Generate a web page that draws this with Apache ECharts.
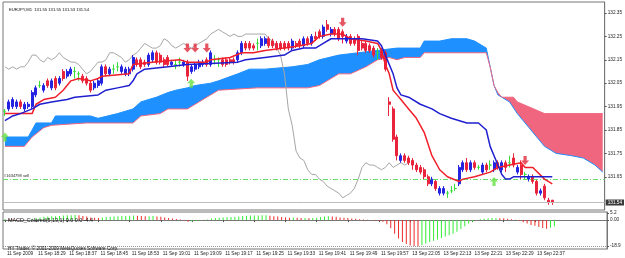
<!DOCTYPE html>
<html><head><meta charset="utf-8">
<script src="https://cdn.jsdelivr.net/npm/echarts@6/dist/echarts.min.js"></script>
<style>html,body{margin:0;padding:0;background:#fff}#c{width:625px;height:258px}</style>
</head><body><div id="c"></div>
<script>
// ---------- data ----------
const tickLabels = ['11 Sep 2009','11 Sep 18:29','11 Sep 18:37','11 Sep 18:45','11 Sep 18:53','11 Sep 19:01','11 Sep 19:09','11 Sep 19:17','11 Sep 19:25','11 Sep 19:33','11 Sep 19:41','11 Sep 19:49','11 Sep 19:57','13 Sep 22:05','13 Sep 22:13','13 Sep 22:21','13 Sep 22:29','13 Sep 22:37'];
const priceTicks = [131.65,131.75,131.85,131.95,132.05,132.15,132.25,132.35];
const macdTicks = [5.2, 0, -18.9];
const bidPrice = 131.54;
const sellPrice = 131.643;

// candles: [open, close, low, high]
const candles = [
[131.93,131.93,131.91,131.94],[131.94,131.97,131.93,131.98],[131.95,131.98,131.94,131.99],[131.95,131.97,131.94,131.98],
[131.97,131.95,131.94,131.98],[131.94,131.96,131.93,131.97],[131.95,131.96,131.94,131.97],[131.95,132.01,131.94,132.02],
[132.00,132.03,131.99,132.04],[132.04,132.04,132.03,132.06],[132.02,132.04,132.01,132.05],[132.06,132.04,132.03,132.07],
[132.03,132.06,132.02,132.07],[132.07,132.03,132.02,132.08],[132.05,132.07,132.04,132.08],[132.10,132.07,132.06,132.11],
[132.08,132.10,132.07,132.11],[132.09,132.11,132.08,132.12],[132.10,132.10,132.07,132.12],[132.09,132.09,132.06,132.10],
[132.08,132.06,132.05,132.09],[132.07,132.05,132.04,132.08],[132.05,132.02,132.01,132.06],[132.03,132.05,132.02,132.06],
[132.04,132.06,132.03,132.07],[132.05,132.12,132.04,132.13],[132.12,132.09,132.08,132.13],[132.09,132.11,132.08,132.12],
[132.11,132.11,132.09,132.13],[132.12,132.12,132.10,132.14],[132.10,132.12,132.09,132.13],[132.09,132.11,132.08,132.12],
[132.09,132.11,132.08,132.12],[132.11,132.16,132.10,132.17],[132.15,132.13,132.12,132.16],[132.15,132.12,132.11,132.16],
[132.14,132.13,132.12,132.15],[132.13,132.17,132.12,132.18],[132.15,132.18,132.14,132.19],[132.18,132.14,132.13,132.19],
[132.17,132.14,132.13,132.18],[132.15,132.13,132.12,132.16],[132.16,132.13,132.12,132.17],[132.13,132.14,132.12,132.15],
[132.13,132.13,132.11,132.15],[132.14,132.14,132.12,132.16],[132.13,132.14,132.12,132.15],[132.14,132.08,132.06,132.15],
[132.10,132.12,132.09,132.13],[132.11,132.13,132.10,132.14],[132.12,132.14,132.11,132.15],[132.13,132.14,132.12,132.15],
[132.15,132.13,132.12,132.16],[132.13,132.18,132.12,132.19],[132.15,132.15,132.13,132.17],[132.15,132.15,132.12,132.16],
[132.15,132.13,132.12,132.16],[132.15,132.13,132.12,132.16],[132.15,132.14,132.13,132.16],[132.15,132.14,132.13,132.16],
[132.15,132.18,132.14,132.19],[132.18,132.22,132.17,132.23],[132.22,132.20,132.19,132.23],[132.22,132.20,132.19,132.23],
[132.21,132.20,132.19,132.22],[132.22,132.22,132.19,132.24],[132.21,132.24,132.20,132.25],[132.22,132.24,132.21,132.25],
[132.24,132.21,132.20,132.25],[132.23,132.21,132.20,132.24],[132.22,132.20,132.19,132.23],[132.22,132.20,132.19,132.23],
[132.22,132.20,132.19,132.23],[132.22,132.20,132.19,132.23],[132.20,132.23,132.19,132.24],[132.22,132.21,132.20,132.23],
[132.23,132.21,132.20,132.24],[132.21,132.24,132.20,132.25],[132.24,132.22,132.21,132.25],[132.22,132.25,132.21,132.26],
[132.25,132.24,132.23,132.27],[132.27,132.25,132.24,132.28],[132.25,132.29,132.24,132.30],[132.30,132.28,132.27,132.32],
[132.26,132.28,132.25,132.29],[132.28,132.26,132.25,132.29],[132.28,132.24,132.23,132.29],[132.27,132.25,132.22,132.28],
[132.23,132.25,132.22,132.26],[132.25,132.22,132.21,132.26],[132.24,132.22,132.21,132.25],[132.25,132.19,132.17,132.26],
[132.22,132.20,132.19,132.23],[132.22,132.19,132.18,132.23],[132.21,132.19,132.18,132.22],[132.20,132.17,132.16,132.21],
[132.18,132.18,132.15,132.20],[132.19,132.16,132.15,132.20],[132.18,132.11,132.10,132.19],[131.97,131.96,131.91,131.99],
[131.94,131.81,131.80,131.95],[131.82,131.74,131.72,131.83],[131.72,131.74,131.71,131.75],[131.74,131.72,131.71,131.75],
[131.73,131.71,131.70,131.74],[131.72,131.70,131.68,131.73],[131.70,131.68,131.67,131.71],[131.69,131.67,131.66,131.70],
[131.68,131.65,131.64,131.69],[131.65,131.62,131.61,131.66],[131.62,131.64,131.61,131.65],[131.63,131.60,131.59,131.64],
[131.58,131.60,131.57,131.61],[131.58,131.60,131.57,131.61],[131.58,131.58,131.56,131.59],[131.59,131.59,131.58,131.61],
[131.60,131.60,131.59,131.62],[131.62,131.69,131.61,131.70],[131.68,131.71,131.67,131.72],[131.71,131.68,131.67,131.73],
[131.68,131.71,131.67,131.72],[131.71,131.69,131.68,131.72],[131.69,131.69,131.68,131.70],[131.67,131.70,131.66,131.71],
[131.70,131.68,131.67,131.71],[131.70,131.70,131.68,131.72],[131.68,131.71,131.67,131.72],[131.71,131.69,131.68,131.72],
[131.68,131.71,131.67,131.72],[131.71,131.69,131.67,131.72],[131.71,131.71,131.69,131.74],[131.73,131.70,131.69,131.75],
[131.67,131.69,131.66,131.70],[131.70,131.66,131.64,131.72],[131.66,131.66,131.64,131.67],[131.64,131.65,131.63,131.66],
[131.65,131.63,131.62,131.66],[131.63,131.58,131.57,131.64],[131.58,131.59,131.57,131.60],[131.61,131.56,131.55,131.62],
[131.55,131.54,131.53,131.56],[131.55,131.54,131.53,131.55]
];

// Ichimoku lines: [barIndex, price] vertices
const tenkan = [[0,131.92],[7,131.92],[8,131.96],[10,131.98],[13,131.99],[15,132.02],[17,132.06],[19,132.07],[22,132.06],[24,132.07],[25,132.08],[32,132.09],[33,132.13],[38,132.14],[45,132.15],[47,132.14],[50,132.14],[52,132.14],[53,132.15],[58,132.16],[61,132.18],[64,132.18],[67,132.19],[72,132.20],[76,132.21],[79,132.22],[81,132.25],[84,132.26],[87,132.26],[89,132.24],[93,132.23],[96,132.22],[97,132.19],[98,132.13],[99,132.09],[100,132.02],[101,132.00],[102,131.98],[104,131.94],[106,131.90],[108,131.84],[110,131.74],[112,131.68],[114,131.65],[117,131.63],[118,131.64],[121,131.65],[125,131.67],[127,131.69],[130,131.70],[133,131.71],[134,131.69],[136,131.69],[139,131.64],[141,131.62]];
const kijun = [[0,131.89],[2,131.91],[4,131.92],[7,131.94],[9,131.96],[12,131.97],[16,131.98],[18,131.99],[24,132.00],[26,132.02],[29,132.03],[32,132.04],[33,132.06],[34,132.09],[36,132.11],[42,132.12],[47,132.13],[60,132.14],[62,132.15],[67,132.16],[72,132.17],[74,132.19],[77,132.20],[80,132.20],[82,132.22],[84,132.24],[92,132.24],[96,132.23],[97,132.21],[98,132.17],[100,132.09],[101,132.03],[102,132.00],[104,131.99],[107,131.96],[110,131.94],[112,131.92],[115,131.90],[119,131.88],[122,131.88],[124,131.85],[125,131.78],[126,131.74],[127,131.70],[128,131.66],[129,131.64],[130,131.64],[131,131.65],[141,131.65]];
const chikou = [132.12,132.11,132.12,132.11,132.12,132.12,132.14,132.17,132.17,132.15,132.14,132.16,132.15,132.16,132.18,132.16,132.15,132.14,132.14,132.13,132.11,132.09,132.10,132.12,132.14,132.14,132.15,132.18,132.18,132.17,132.16,132.14,132.15,132.17,132.18,132.20,132.22,132.21,132.20,132.20,132.21,132.24,132.23,132.21,132.20,132.21,132.22,132.21,132.20,132.21,132.22,132.23,132.24,132.26,132.27,132.28,132.27,132.26,132.25,132.26,132.25,132.25,132.26,132.26,132.26,132.26,132.26,132.26,132.24,132.23,132.20,132.17,132.09,131.94,131.87,131.76,131.73,131.72,131.68,131.66,131.66,131.64,131.63,131.61,131.60,131.59,131.58,131.56,131.57,131.58,131.60,131.64,131.69,131.71,131.70,131.70,131.69,131.68,131.69,131.71,131.69,131.70,131.71,131.70,131.71];
const senkouA = [[0,131.82],[6,131.82],[7,131.85],[8,131.88],[12,131.88],[13,131.91],[15,131.91],[22,131.91],[24,131.90],[29,131.92],[33,131.94],[35,131.97],[39,131.99],[42,132.01],[44,132.02],[47,132.03],[49,132.04],[53,132.05],[55,132.06],[60,132.09],[63,132.11],[67,132.11],[74,132.12],[78,132.13],[81,132.15],[86,132.17],[91,132.18],[96,132.19],[101,132.20],[107,132.20],[108,132.23],[112,132.23],[115,132.24],[119,132.24],[121,132.23],[124,132.20],[125,132.12],[126,132.04],[127,132.00],[130,131.97],[132,131.92],[135,131.86],[137,131.82],[139,131.78],[142,131.75],[146,131.74],[149,131.73],[152,131.70],[154,131.67]];
const senkouB = [[0,131.78],[5,131.78],[7,131.82],[10,131.86],[12,131.87],[21,131.88],[33,131.88],[35,131.91],[40,131.92],[42,131.94],[47,131.94],[50,131.97],[53,132.00],[55,132.02],[65,132.03],[78,132.03],[81,132.04],[86,132.09],[89,132.09],[93,132.12],[96,132.15],[99,132.16],[101,132.15],[103,132.16],[107,132.16],[108,132.18],[124,132.18],[125,132.12],[126,132.04],[127,132.01],[128,131.99],[131,131.99],[132,131.97],[139,131.92],[141,131.92],[154,131.92]];
const cloudSwitch = 125; // bar where the cloud changes colour

const sellArrows = [[47,132.20],[49,132.20],[52,132.20],[87,132.31],[134,131.72]];
const buyArrows = [[0,131.82],[48,132.05],[126,131.63]];

const macd = [0.9,0.7,0.5,0.4,0.3,0.2,0.1,0.8,1.5,2.0,2.4,2.6,2.8,2.9,3.1,3.3,3.5,3.6,3.7,3.5,3.1,2.6,2.0,1.7,1.5,2.0,2.3,2.5,2.7,2.9,3.0,3.1,3.2,3.4,3.2,3.0,2.8,2.9,3.0,2.7,2.4,2.0,1.6,1.2,0.8,0.4,-0.3,-1.2,-1.0,-0.6,-0.2,0.3,0.5,1.2,1.5,1.8,2.0,2.1,2.2,2.3,2.6,3.0,3.2,3.3,3.3,3.4,3.5,3.5,3.2,2.9,2.6,2.3,2.0,1.8,1.9,1.7,1.5,1.6,1.4,1.5,1.8,2.2,2.6,2.9,2.7,2.4,2.0,1.7,1.5,1.2,1.0,0.6,0.4,0.2,-0.1,-0.4,-0.5,-1.2,-3.0,-6.0,-10.0,-13.5,-16.0,-17.5,-18.5,-18.9,-19.0,-18.2,-17.0,-16.0,-15.0,-14.2,-13.0,-12.0,-11.0,-10.0,-8.5,-6.5,-4.5,-2.5,-1.0,0.0,0.6,1.0,1.3,1.5,1.6,1.4,1.3,1.0,0.6,0.2,-0.5,-1.5,-2.5,-3.5,-4.2,-5.0,-5.8,-6.3,-5.5,-4.4];

// ---------- categories (one per M1 bar, plus the forward cloud area) ----------
const categories = [];
for (let i = 0; i < 155; i++) {
  let d, m;
  if (i <= 98) { d = '11 Sep'; m = 18*60 + 21 + i; } else { d = '13 Sep'; m = 22*60 + (i - 99); }
  categories.push(d + ' ' + String(Math.floor(m/60)).padStart(2,'0') + ':' + String(m%60).padStart(2,'0'));
}

// ---------- styles ----------
const FONT = 'Liberation Sans, Arial, sans-serif';
const RED = '#e8233b', BLUE = '#2323e0', GREEN = '#38dd38';
const downArrow = 'path://M3,0 L7,0 L7,5 L10,5 L5,10 L0,5 L3,5 Z';
const upArrow = 'path://M5,0 L10,5 L7,5 L7,10 L3,10 L3,5 L0,5 Z';

const candleData = candles.map(c => {
  if (c[0] === c[1]) return {value: c, itemStyle: {color: GREEN, color0: GREEN, borderColor: GREEN, borderColor0: GREEN}};
  return c;
});
const macdData = macd.map((v, i) => ({value: v, itemStyle: {color: (i === 0 || v >= macd[i-1]) ? '#33ee33' : '#ee2b2b'}}));

const tickInterval = (idx) => idx % 8 === 0 && idx / 8 < tickLabels.length;

const chart = echarts.init(document.getElementById('c'), null, {renderer: 'canvas'});
chart.setOption({
  animation: false,
  backgroundColor: '#ffffff',
  title: [
    {text: 'EURJPY,M1  131.55 131.55 131.53 131.54', left: 4, top: 3, textStyle: {fontSize: 4.2, fontWeight: 'normal', color: '#111', fontFamily: FONT}},
    {text: 'MACD_Colored(5,13,1) 0.0 0.0 -4.4', left: 3, top: 213, textStyle: {fontSize: 5.4, fontWeight: 'normal', color: '#111', fontFamily: FONT}},
    {text: 'HY Trader, © 2001-2009 MetaQuotes Software Corp.', left: 3, top: 241, textStyle: {fontSize: 4.7, fontWeight: 'normal', color: '#111', fontFamily: FONT}}
  ],
  grid: [
    {left: 3, right: 18, top: 2, height: 208, show: true, borderColor: '#777', borderWidth: 1, backgroundColor: '#fff'},
    {left: 3, right: 18, top: 212, height: 37, show: true, borderColor: '#777', borderWidth: 1, backgroundColor: '#fff'}
  ],
  xAxis: [
    {type: 'category', gridIndex: 0, data: categories, boundaryGap: true,
     axisLine: {show: false}, axisTick: {show: false}, axisLabel: {show: false}, splitLine: {show: false}},
    {type: 'category', gridIndex: 1, data: categories, boundaryGap: true,
     axisLine: {show: true, lineStyle: {color: '#777'}},
     axisTick: {show: true, alignWithLabel: true, interval: tickInterval, length: 2, lineStyle: {color: '#555'}},
     axisLabel: {show: true, interval: tickInterval, align: 'left', margin: 2, padding: [0,0,0,2],
       formatter: (v, idx) => tickLabels[idx / 8] || '', fontSize: 4.7, color: '#222', fontFamily: FONT},
     splitLine: {show: false}}
  ],
  yAxis: [
    {type: 'value', gridIndex: 0, position: 'right', min: 131.508, max: 132.397, scale: true,
     splitLine: {show: false},
     axisLine: {show: true, lineStyle: {color: '#777'}},
     axisTick: {show: true, length: 2, customValues: priceTicks, lineStyle: {color: '#555'}},
     axisLabel: {customValues: priceTicks, formatter: v => v.toFixed(2), fontSize: 4.7, color: '#222', margin: 3, fontFamily: FONT}},
    {type: 'value', gridIndex: 1, position: 'right', min: -21.09, max: 5.93,
     splitLine: {show: false},
     axisLine: {show: true, lineStyle: {color: '#777'}},
     axisTick: {show: true, length: 2, customValues: macdTicks, lineStyle: {color: '#555'}},
     axisLabel: {customValues: macdTicks, formatter: v => (v === 0 ? '0.00' : String(v)), fontSize: 4.7, color: '#222', margin: 3, fontFamily: FONT}}
  ],
  series: [
    {type: 'custom', xAxisIndex: 0, yAxisIndex: 0, z: 1, silent: true, clip: true,
     data: [[0, senkouA[0][1]]],
     renderItem: function (params, api) {
       const poly = (lo, hi) => {
         const a = senkouA.filter(p => p[0] >= lo && p[0] <= hi).map(p => api.coord(p));
         const b = senkouB.filter(p => p[0] >= lo && p[0] <= hi).map(p => api.coord(p)).reverse();
         return a.concat(b);
       };
       return {type: 'group', children: [
         {type: 'polygon', shape: {points: poly(0, cloudSwitch)}, style: {fill: '#1e90ff'}},
         {type: 'polygon', shape: {points: poly(cloudSwitch, 154)}, style: {fill: '#f0667f'}}
       ]};
     }},
    {type: 'line', name: 'SenkouA', data: senkouA, showSymbol: false, symbol: 'none', z: 2, silent: true,
     lineStyle: {color: '#1e90ff', width: 1}},
    {type: 'line', name: 'SenkouB', data: senkouB, showSymbol: false, symbol: 'none', z: 2, silent: true,
     lineStyle: {color: '#f0667f', width: 1}},
    {type: 'line', name: 'Chikou', data: chikou, showSymbol: false, symbol: 'none', z: 3, silent: true,
     lineStyle: {color: '#a6a6a6', width: 1}},
    {type: 'candlestick', name: 'EURJPY', data: candleData, barWidth: 2.5, z: 4, silent: true,
     itemStyle: {color: BLUE, color0: RED, borderColor: BLUE, borderColor0: RED, borderWidth: 1},
     markLine: {silent: true, symbol: 'none', animation: false,
       data: [
         {yAxis: sellPrice, lineStyle: {color: '#66dd66', type: [5,2,1,2], width: 1},
          label: {show: true, position: 'insideStartTop', formatter: '#1634798 sell', fontSize: 4, color: '#222', distance: 1, fontFamily: FONT}},
         {yAxis: bidPrice, lineStyle: {color: '#bdbdbd', type: 'solid', width: 1},
          label: {show: true, position: 'end', formatter: bidPrice.toFixed(2), fontSize: 4.7, color: '#fff', backgroundColor: '#3a3a3a', padding: [1,2,0,2], distance: 1, fontFamily: FONT}}
       ]}},
    {type: 'line', name: 'Tenkan', data: tenkan, showSymbol: false, symbol: 'none', z: 5, silent: true,
     lineStyle: {color: '#f01f2a', width: 1.5}},
    {type: 'line', name: 'Kijun', data: kijun, showSymbol: false, symbol: 'none', z: 5, silent: true,
     lineStyle: {color: '#1f1fd0', width: 1.5}},
    {type: 'scatter', name: 'sell', data: sellArrows, symbol: downArrow, symbolSize: [8, 9], z: 6, silent: true,
     itemStyle: {color: '#e02a3a'}},
    {type: 'scatter', name: 'buy', data: buyArrows, symbol: upArrow, symbolSize: [8, 9], z: 6, silent: true,
     itemStyle: {color: '#66e044'}},
    {type: 'bar', name: 'MACD', xAxisIndex: 1, yAxisIndex: 1, data: macdData, barWidth: 1, z: 2, silent: true,
     markLine: {silent: true, symbol: 'none', label: {show: false},
       data: [{yAxis: -18.9, lineStyle: {color: '#999', type: 'dotted', width: 1}}]}}
  ]
});
</script>
</body></html>
